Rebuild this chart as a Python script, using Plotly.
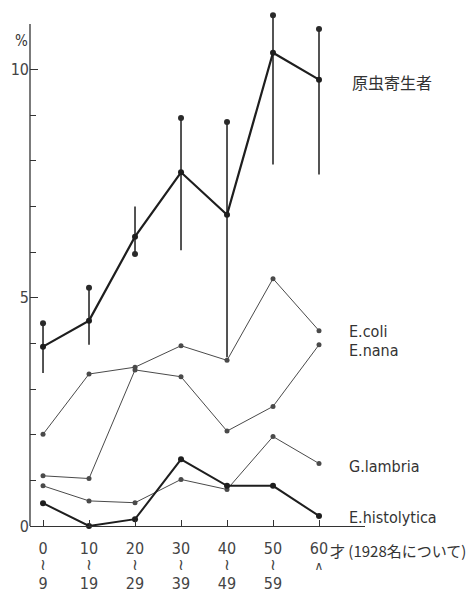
import plotly.graph_objects as go

# ---- data ----
age_groups = [0, 1, 2, 3, 4, 5, 6]
age_from = ["0", "10", "20", "30", "40", "50", "60"]
age_mid = ["≀", "≀", "≀", "≀", "≀", "≀", '<span style="font-size:12px">∧</span>']
age_to = ["9", "19", "29", "39", "49", "59", ""]

protozoa_total = [3.93, 4.50, 6.34, 7.75, 6.82, 10.37, 9.78]
protozoa_hi = [4.44, 5.22, 7.00, 8.94, 8.85, 11.19, 10.89]
protozoa_lo = [3.35, 3.97, 5.96, 6.04, 3.70, 7.92, 7.70]
dot_end = ["hi", "hi", "lo", "hi", "hi", "hi", "hi"]

e_coli = [2.01, 3.33, 3.48, 3.95, 3.63, 5.42, 4.28]
e_nana = [1.10, 1.04, 3.42, 3.27, 2.08, 2.62, 3.97]
g_lambria = [0.88, 0.55, 0.51, 1.02, 0.80, 1.96, 1.37]
e_histolytica = [0.50, 0.00, 0.15, 1.46, 0.88, 0.88, 0.22]

series = [
    ("原虫寄生者", protozoa_total, 2.2, "#1e1e1e", -2),
    ("E.coli", e_coli, 1.0, "#4a4a4a", -1),
    ("E.nana", e_nana, 1.0, "#4a4a4a", -6),
    ("G.lambria", g_lambria, 1.0, "#4a4a4a", -3),
    ("E.histolytica", e_histolytica, 2.0, "#1e1e1e", -2),
]

LATIN = "Liberation Sans Narrow, DejaVu Sans Condensed, DejaVu Sans, sans-serif"
XRANGE = [-0.283, 7.0]

fig = go.Figure()

# error bars for total
fig.add_trace(go.Scatter(
    x=age_groups, y=protozoa_total, mode="markers",
    marker=dict(size=1, color="rgba(0,0,0,0)"),
    error_y=dict(type="data", symmetric=False,
                 array=[h - v for h, v in zip(protozoa_hi, protozoa_total)],
                 arrayminus=[v - l for l, v in zip(protozoa_lo, protozoa_total)],
                 width=0, thickness=1.6, color="#2a2a2a"),
    showlegend=False, hoverinfo="skip", cliponaxis=False,
))
# dots at error bar ends
fig.add_trace(go.Scatter(
    x=age_groups,
    y=[h if d == "hi" else l for h, l, d in zip(protozoa_hi, protozoa_lo, dot_end)],
    mode="markers", marker=dict(size=6, color="#2a2a2a"),
    showlegend=False, hoverinfo="skip", cliponaxis=False,
))

for name, vals, w, col, ysh in series:
    fig.add_trace(go.Scatter(
        x=age_groups, y=vals, mode="lines+markers", name=name,
        line=dict(color=col, width=w),
        marker=dict(size=5 if w < 1.5 else 6, color=col),
        showlegend=False, cliponaxis=False,
    ))
    jp = name == "原虫寄生者"
    fig.add_annotation(
        x=age_groups[-1], y=vals[-1], xref="x", yref="y",
        text=name, showarrow=False, xanchor="left", yanchor="middle",
        xshift=31 if jp else 28, yshift=ysh,
        font=dict(family="Noto Sans CJK JP" if jp else "DejaVu Sans Condensed, DejaVu Sans",
                  size=16, color="#333333"),
    )

# invisible traces carrying the extra tick-label rows
for ax in ["x2", "x3"]:
    fig.add_trace(go.Scatter(x=age_groups, y=[None] * len(age_groups), xaxis=ax,
                             mode="markers", showlegend=False, hoverinfo="skip"))

# y axis line (only up to 11)
fig.add_shape(type="line", xref="paper", yref="y", x0=0, x1=0, y0=0, y1=11,
              line=dict(color="#333333", width=1.3))

fig.add_annotation(
    x=0, y=10.62, xref="paper", yref="y", text="%", showarrow=False,
    xanchor="right", xshift=0,
    font=dict(family="DejaVu Sans Condensed, DejaVu Sans", size=15, color="#333333"),
)
fig.add_annotation(
    x=age_groups[-1], y=0, xref="x", yref="y", text="才 (1928名について)",
    showarrow=False, xanchor="left", yanchor="middle", xshift=9, yshift=-24,
    font=dict(family="Noto Sans CJK JP", size=15, color="#333333"),
)

tickfont = dict(family=LATIN, size=16, color="#444444")
fig.update_layout(
    width=467, height=590,
    margin=dict(l=30, r=102, t=8, b=64),
    paper_bgcolor="white", plot_bgcolor="white",
    font=dict(family=LATIN, color="#333333"),
    xaxis=dict(range=XRANGE, tickvals=age_groups, ticktext=age_from,
               showline=True, linecolor="#333333", linewidth=1.3,
               ticks="inside", ticklen=6, tickcolor="#333333", automargin=False,
               ticklabelstandoff=8,
               showgrid=False, zeroline=False, tickfont=tickfont),
    xaxis2=dict(range=XRANGE, overlaying="x", anchor="y", side="bottom",
                tickvals=age_groups, ticktext=age_mid, showline=False, ticks="",
                automargin=False, ticklabelstandoff=27, showgrid=False, zeroline=False,
                tickfont=dict(family="DejaVu Sans", size=16, color="#444444")),
    xaxis3=dict(range=XRANGE, overlaying="x", anchor="y", side="bottom",
                tickvals=age_groups, ticktext=age_to, showline=False, ticks="",
                automargin=False, ticklabelstandoff=46, showgrid=False, zeroline=False,
                tickfont=tickfont),
    yaxis=dict(range=[0, 11.35], tickvals=[0, 5, 10],
               showline=False, automargin=False,
               ticks="inside", ticklen=8, tickcolor="#333333",
               minor=dict(tickvals=[1, 2, 3, 4, 6, 7, 8, 9], ticks="inside", ticklen=6,
                          tickcolor="#333333", showgrid=False),
               showgrid=False, zeroline=False, tickfont=tickfont),
)

fig.write_html("out.html", post_script="document.body.style.margin='0';",
               config={"displayModeBar": False})
